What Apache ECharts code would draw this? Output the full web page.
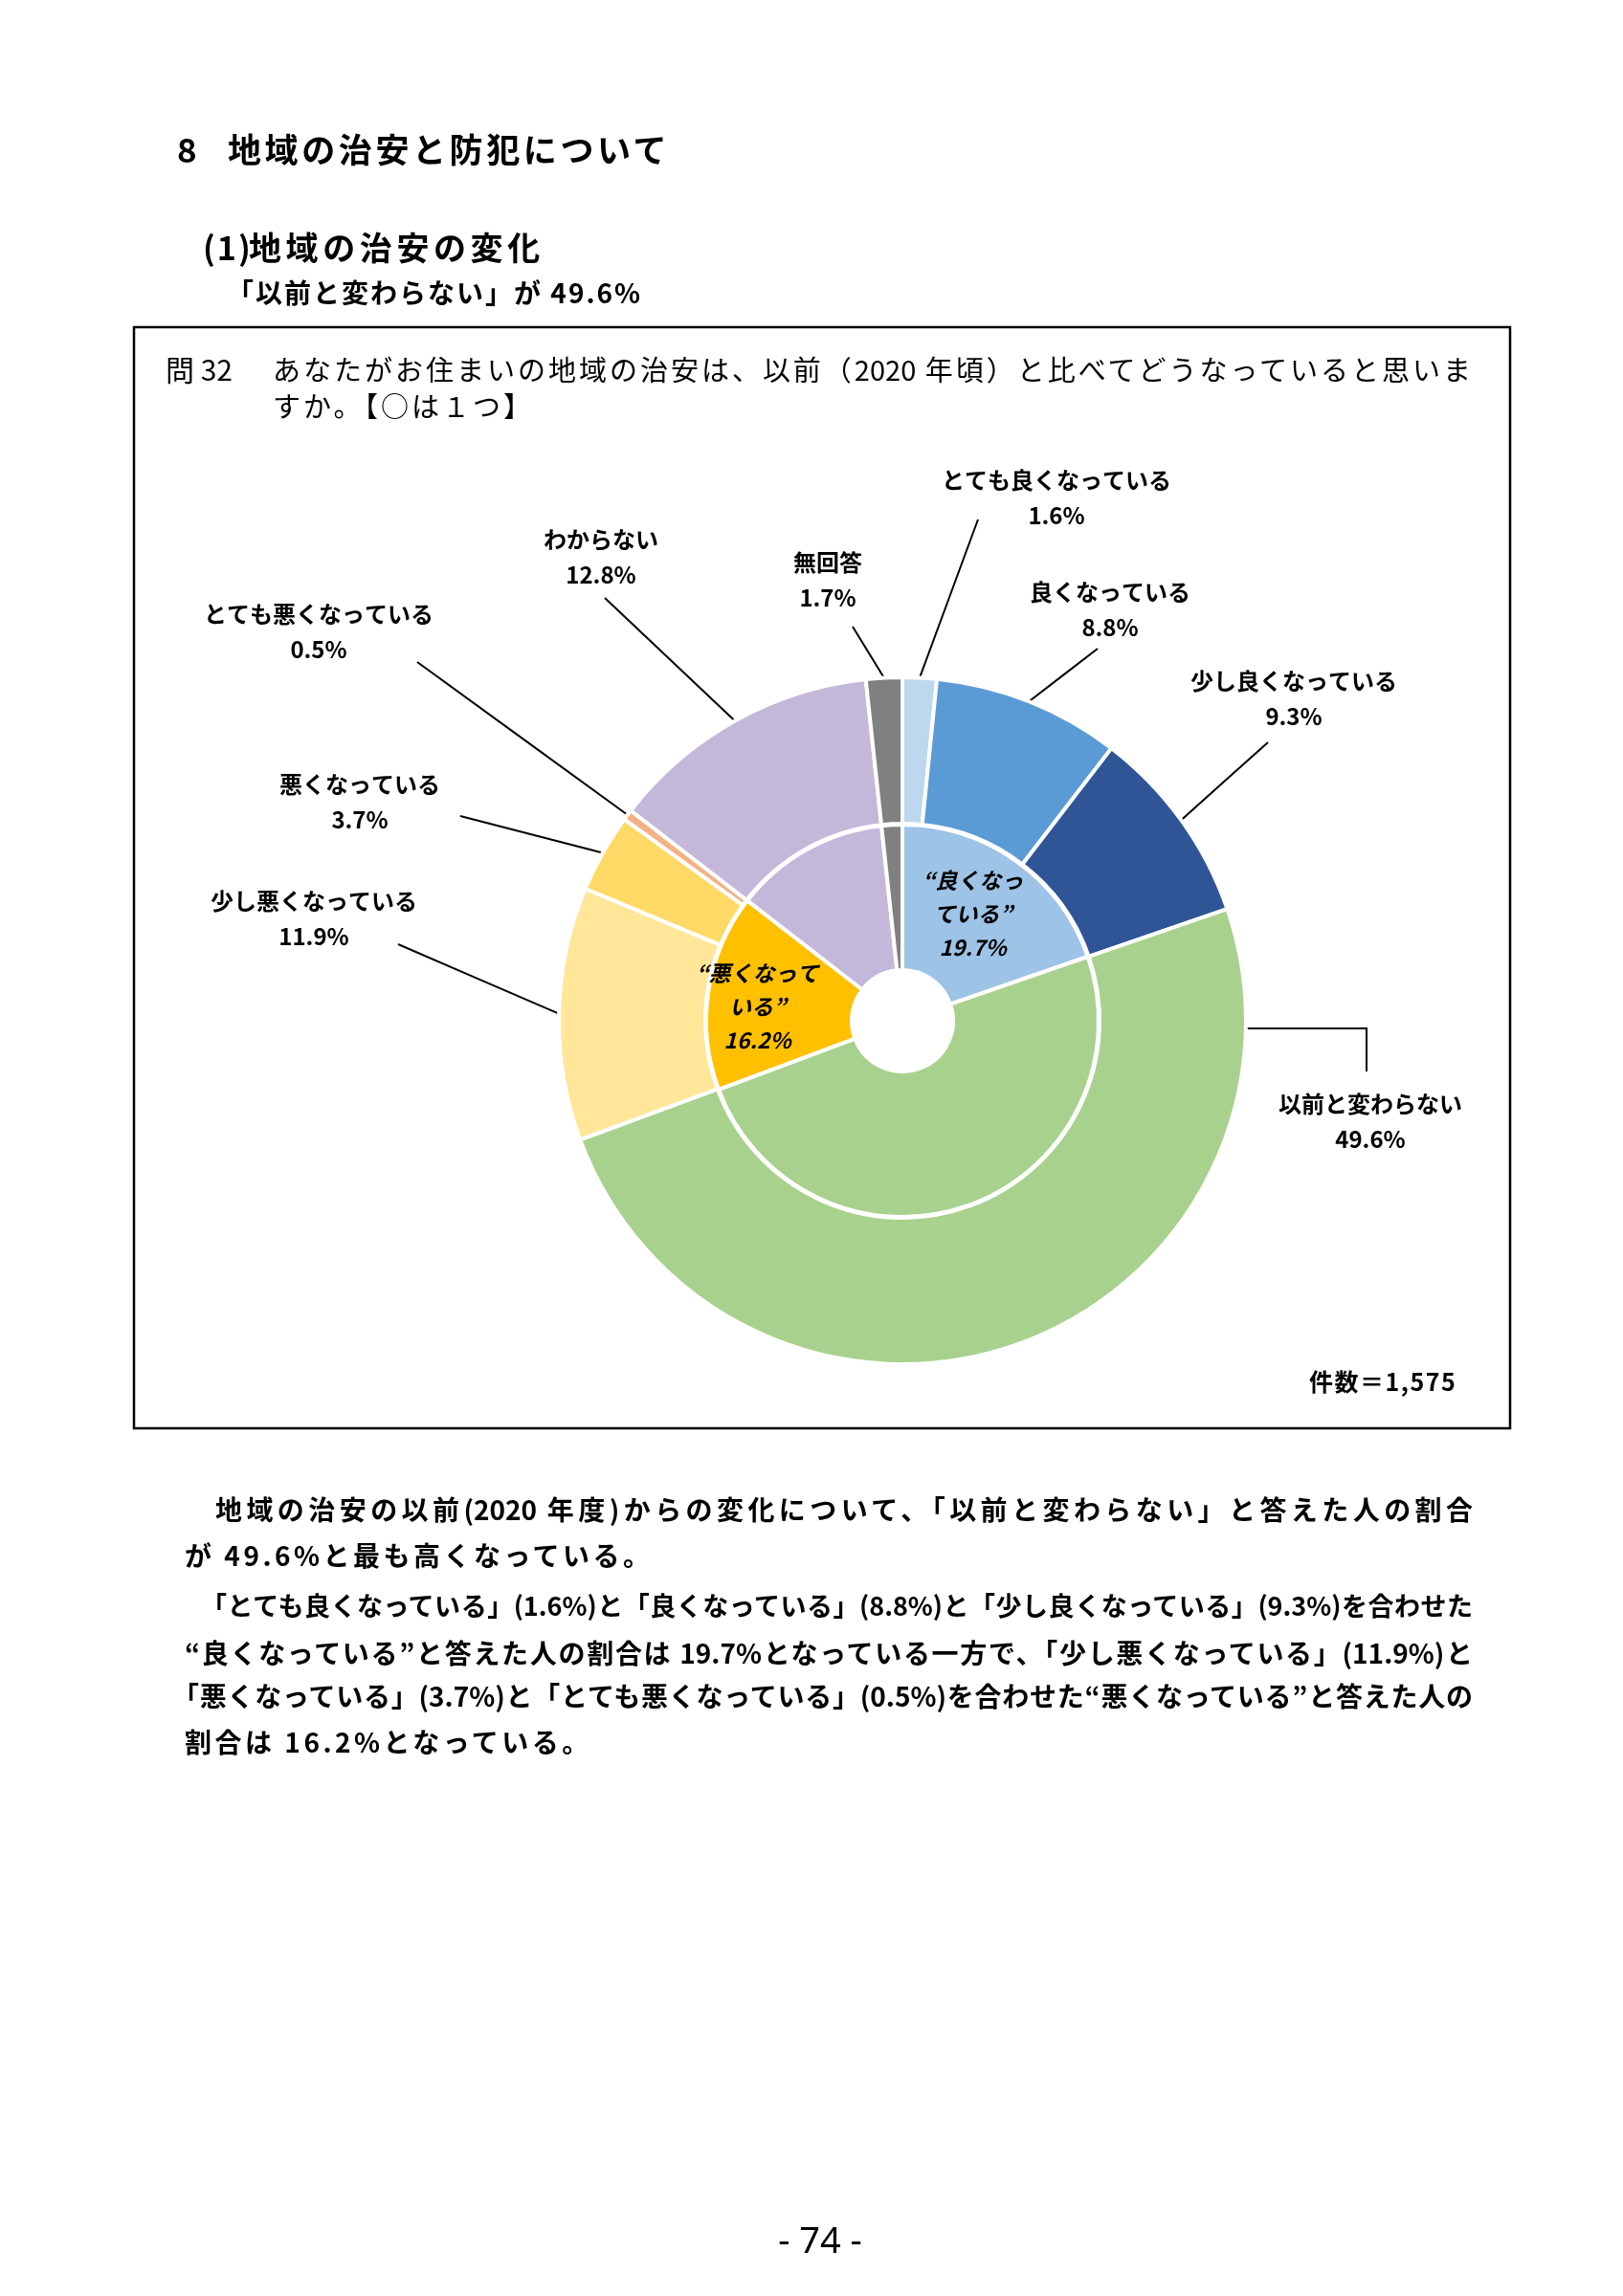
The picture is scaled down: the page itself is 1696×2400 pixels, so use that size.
<!DOCTYPE html>
<html><head><meta charset="utf-8">
<script src="https://cdn.jsdelivr.net/npm/echarts@6/dist/echarts.min.js"></script>
<style>
html,body{margin:0;padding:0;background:#fff;}
#page{position:relative;width:1696px;height:2400px;overflow:hidden;background:#fff;}
#chart{position:absolute;left:0;top:0;width:1696px;height:2400px;}
.t{position:absolute;white-space:nowrap;color:#000;font-family:"Noto Sans CJK JP",sans-serif;}
.b{font-weight:700;}
.j{text-align:justify;text-align-last:justify;text-justify:inter-character;}
</style></head>
<body>
<div id="page">
<div id="chart"></div>

<div class="t b" style="left:185px;top:135px;font-size:35px;line-height:40px;">8</div>
<div class="t b" style="left:238px;top:135px;font-size:35px;line-height:40px;letter-spacing:3.6px;">地域の治安と防犯について</div>
<div class="t b" style="left:212px;top:238px;font-size:34px;line-height:40px;letter-spacing:2px;">(1)</div>
<div class="t b" style="left:260px;top:238px;font-size:34px;line-height:40px;letter-spacing:4.6px;">地域の治安の変化</div>
<div class="t b" style="left:237px;top:287px;font-size:28px;line-height:36px;letter-spacing:2px;">「以前と変わらない」が 49.6%</div>

<div class="t" style="left:173px;top:367px;font-size:30px;line-height:36px;">問 32</div>
<div class="t j" style="left:285px;top:367px;width:1252px;font-size:29px;line-height:36px;">あなたがお住まいの地域の治安は、以前（2020 年頃）と比べてどうなっていると思いま</div>
<div class="t" style="left:285px;top:405px;font-size:29px;line-height:36px;letter-spacing:3px;">すか。【○は１つ】</div>

<div class="t b" style="left:1368px;top:1428px;font-size:25px;line-height:30px;letter-spacing:1.5px;">件数＝1,575</div>

<div class="t b j" style="left:225px;top:1559px;width:1314px;font-size:28px;line-height:36px;">地域の治安の以前(2020 年度)からの変化について、「以前と変わらない」と答えた人の割合</div>
<div class="t b" style="left:193px;top:1607px;font-size:28px;line-height:36px;letter-spacing:3.5px;">が 49.6%と最も高くなっている。</div>
<div class="t b j" style="left:210px;top:1660px;width:1329px;font-size:27px;line-height:36px;">「とても良くなっている」(1.6%)と「良くなっている」(8.8%)と「少し良くなっている」(9.3%)を合わせた</div>
<div class="t b j" style="left:193px;top:1709px;width:1346px;font-size:28px;line-height:36px;">“良くなっている”と答えた人の割合は 19.7%となっている一方で、「少し悪くなっている」(11.9%)と</div>
<div class="t b j" style="left:180px;top:1754px;width:1359px;font-size:28px;line-height:36px;">「悪くなっている」(3.7%)と「とても悪くなっている」(0.5%)を合わせた“悪くなっている”と答えた人の</div>
<div class="t b" style="left:193px;top:1802px;font-size:28px;line-height:36px;letter-spacing:3.5px;">割合は 16.2%となっている。</div>

<div class="t" style="left:757px;top:2316px;width:200px;text-align:center;font-family:'Noto Sans',sans-serif;font-size:38px;line-height:48px;">- 74 -</div>
</div>

<script>
// ---- data ----
const outerNames = ['とても良くなっている','良くなっている','少し良くなっている','以前と変わらない','少し悪くなっている','悪くなっている','とても悪くなっている','わからない','無回答'];
const outerValues = [1.6, 8.8, 9.3, 49.6, 11.9, 3.7, 0.5, 12.8, 1.7];
const innerNames = ['良くなっている','以前と変わらない','悪くなっている','わからない','無回答'];
const innerValues = [19.7, 49.6, 16.2, 12.8, 1.7];
const innerLabelText = ['“良くなっ\nている”', '', '“悪くなって\nいる”', '', ''];

// ---- styles ----
const outerColors = ['#BDD7EE','#5B9BD5','#2F5597','#A9D18E','#FFE699','#FFD966','#F4B183','#C4B8DA','#808080'];
const innerColors = ['#9DC3E6','#A9D18E','#FFC000','#C4B8DA','#808080'];
const CX = 943, CY = 1067, R_OUT = 359;
const outerLabelPos = [
  {x:1104, y:520, sx:1022, sy:543},
  {x:1160, y:637, sx:1147, sy:678},
  {x:1352, y:730, sx:1325, sy:776},
  {x:1432, y:1172, elbow:{y:1075, x:1428, end:1120}},
  {x:328,  y:960, sx:416, sy:987},
  {x:376,  y:838, sx:481, sy:853},
  {x:333,  y:660, sx:436, sy:692},
  {x:628,  y:582, sx:632, sy:625},
  {x:865,  y:606, sx:891, sy:655}
];
const innerLabelShift = [{dx:-3, dy:-4}, {dx:0, dy:0}, {dx:-21, dy:5}, {dx:0, dy:0}, {dx:0, dy:0}];
const FONT = '"Noto Sans CJK JP", sans-serif';

const chart = echarts.init(document.getElementById('chart'), null, {renderer:'canvas'});
chart.setOption({
  animation: false,
  backgroundColor: 'transparent',
  graphic: [{
    type: 'rect', z: 0,
    shape: {x: 140, y: 342, width: 1438, height: 1151},
    style: {fill: 'none', stroke: '#000', lineWidth: 2.5}
  }],
  series: [
    {
      type: 'pie',
      name: 'outer',
      center: [CX, CY],
      radius: [206, R_OUT],
      startAngle: 90,
      clockwise: true,
      avoidLabelOverlap: false,
      itemStyle: {borderColor: '#fff', borderWidth: 4},
      emphasis: {disabled: true},
      label: {
        show: true, position: 'outside',
        color: '#000', fontFamily: FONT, fontWeight: 'bold',
        fontSize: 24, lineHeight: 37, align: 'center',
        formatter: p => p.name + '\n' + Number(p.value).toFixed(1) + '%'
      },
      labelLine: {show: true, length: 10, length2: 10, smooth: false,
        lineStyle: {color: '#000', width: 2}},
      labelLayout: function (p) {
        const L = outerLabelPos[p.dataIndex];
        let pts;
        if (L.elbow) {
          const dy = L.elbow.y - CY;
          const ex = CX + Math.sqrt(R_OUT * R_OUT - dy * dy);
          pts = [[ex, L.elbow.y], [L.elbow.x, L.elbow.y], [L.elbow.x, L.elbow.end]];
        } else {
          const a = (p.labelLinePoints && p.labelLinePoints[0]) ? p.labelLinePoints[0] : [L.sx, L.sy];
          pts = [[a[0], a[1]], [(a[0] + L.sx) / 2, (a[1] + L.sy) / 2], [L.sx, L.sy]];
        }
        return {x: L.x, y: L.y, align: 'center', verticalAlign: 'middle', labelLinePoints: pts};
      },
      data: outerNames.map((n, i) => ({name: n, value: outerValues[i], itemStyle: {color: outerColors[i]}}))
    },
    {
      type: 'pie',
      name: 'inner',
      center: [CX, CY],
      radius: [53, 205],
      startAngle: 90,
      clockwise: true,
      avoidLabelOverlap: false,
      itemStyle: {borderColor: '#fff', borderWidth: 4},
      emphasis: {disabled: true},
      label: {
        show: true, position: 'inside',
        color: '#000', fontFamily: FONT, fontWeight: 'bold', fontStyle: 'italic',
        fontSize: 23, lineHeight: 35, align: 'center',
        formatter: p => innerLabelText[p.dataIndex] ? innerLabelText[p.dataIndex] + '\n' + Number(p.value).toFixed(1) + '%' : ''
      },
      labelLayout: function (p) {
        const s = innerLabelShift[p.dataIndex];
        return {dx: s.dx, dy: s.dy};
      },
      labelLine: {show: false},
      data: innerNames.map((n, i) => ({name: n, value: innerValues[i], itemStyle: {color: innerColors[i]}}))
    }
  ]
});
</script>
</body></html>
